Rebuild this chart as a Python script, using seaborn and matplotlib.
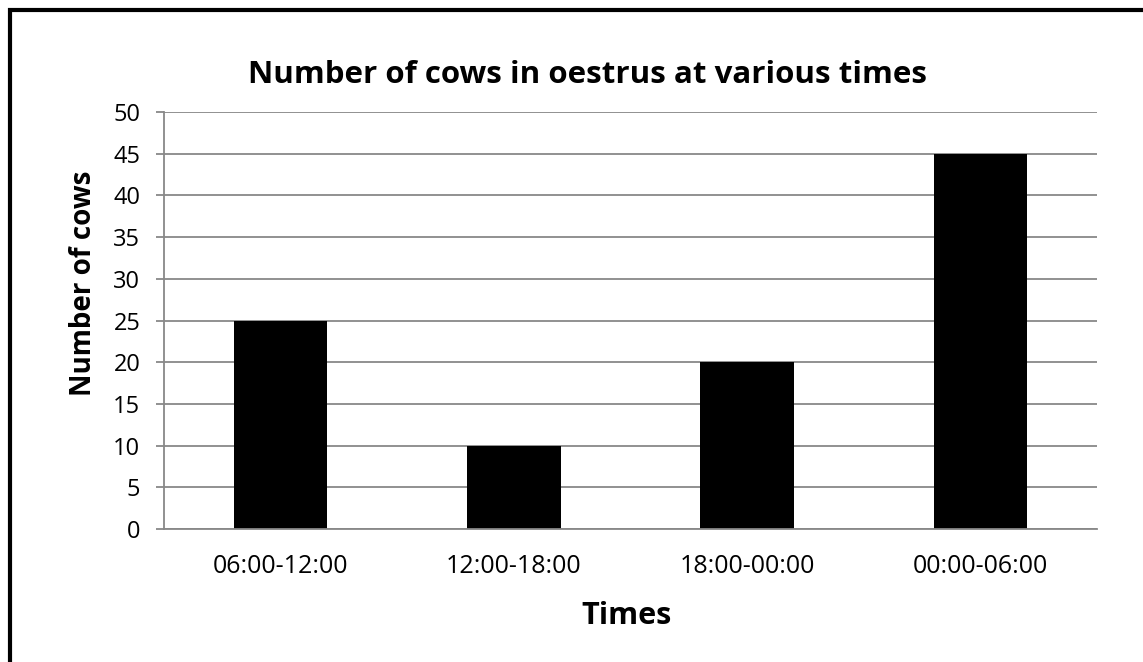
import matplotlib
matplotlib.use("Agg")
import matplotlib.pyplot as plt
import seaborn as sns
import pandas as pd
from matplotlib.patches import Rectangle

categories = ["06:00-12:00", "12:00-18:00", "18:00-00:00", "00:00-06:00"]
cows = [25, 10, 20, 45]
yticks = [0, 5, 10, 15, 20, 25, 30, 35, 40, 45, 50]

sns.set_theme(style="white")
plt.rcParams['font.family'] = ['Open Sans', 'DejaVu Sans']
plt.rcParams['text.color'] = 'black'
plt.rcParams['axes.labelcolor'] = 'black'
plt.rcParams['xtick.color'] = 'black'
plt.rcParams['ytick.color'] = 'black'

df = pd.DataFrame({"Times": categories, "Cows": cows})

W, H = 1143, 662
fig = plt.figure(figsize=(W / 100, H / 100), dpi=100)
ax = fig.add_axes([164 / W, 1 - 529 / H, (1097 - 164) / W, (529 - 112) / H])

sns.barplot(data=df, x="Times", y="Cows", color="black", width=0.4,
            saturation=1, ax=ax, edgecolor="black", linewidth=0)

ax.set_ylim(0, 50)
ax.set_xlim(-0.5, 3.5)
ax.set_yticks(yticks)
ax.yaxis.grid(True, color="#888888", linewidth=1.3)
ax.set_axisbelow(True)
for s in ["top", "right"]:
    ax.spines[s].set_visible(False)
for s in ["left", "bottom"]:
    ax.spines[s].set_color("#888888")
    ax.spines[s].set_linewidth(1.3)
ax.tick_params(axis="y", length=6, width=1.3, color="#888888", labelcolor="black",
               labelsize=17, pad=11, left=True)
ax.tick_params(axis="x", length=0, labelsize=18, labelcolor="black", pad=18)

ax.set_xlabel("Times", fontsize=22, fontweight="bold")
ax.xaxis.set_label_coords(0.496, -0.173)
ax.set_ylabel("Number of cows", fontsize=20, fontweight="bold")
ax.yaxis.set_label_coords(-0.071, 0.59)
fig.text(588 / W, 1 - 75 / H, "Number of cows in oestrus at various times",
         ha="center", va="center", fontsize=22.5, fontweight="bold")

fig.patches.append(Rectangle((9.5 / W, -0.1), 1.2, 1 - 10 / H + 0.1,
                             transform=fig.transFigure, fill=False,
                             edgecolor="black", linewidth=3.0))

fig.savefig("out.png", dpi=100, facecolor="white")
